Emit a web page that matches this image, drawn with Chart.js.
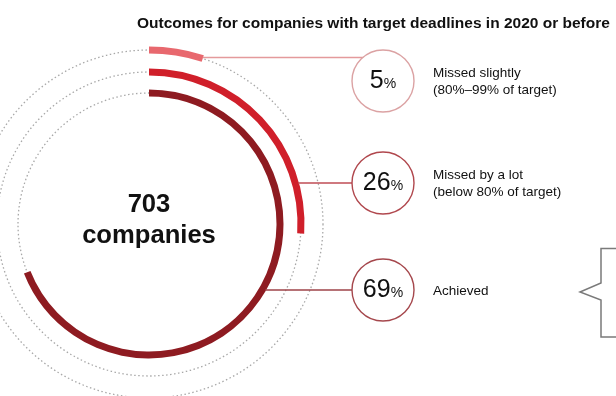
<!DOCTYPE html>
<html>
<head>
<meta charset="utf-8">
<script src="https://cdn.jsdelivr.net/npm/chart.js@4"></script>
<style>
  html, body { margin: 0; padding: 0; background: #fff; }
  body { width: 616px; height: 396px; position: relative; overflow: hidden;
         font-family: "Liberation Sans", Arial, sans-serif; color: #111; }
  canvas { position: absolute; left: 0; top: 0; }
  .title { position: absolute; left: 137px; top: 15px; font-weight: bold; font-size: 15.5px;
           line-height: 15px; white-space: nowrap; }
  .center { position: absolute; left: 49px; width: 200px; top: 188px; text-align: center;
            font-weight: bold; font-size: 25.6px; line-height: 31px; }
  .pct { position: absolute; width: 62px; text-align: center; font-size: 25px; line-height: 25px;
         transform: translateY(-50%); white-space: nowrap; }
  .pct span { font-size: 14px; }
  .lbl { position: absolute; font-size: 13.5px; line-height: 17px; transform: translateY(-50%);
         white-space: nowrap; }
</style>
</head>
<body>
<canvas id="myChart" width="616" height="396"></canvas>
<div id="texts"></div>
<script>
/* ---------- DATA ---------- */
const chartTitle = "Outcomes for companies with target deadlines in 2020 or before";
const totalCompanies = 703;
const categories = ["Missed slightly", "Missed by a lot", "Achieved"];
const subLabels = ["(80%–99% of target)", "(below 80% of target)", ""];
const shares = [5, 26, 69];

/* ---------- STYLE ---------- */
const ringColors = ["#e8686e", "#d01f2a", "#8e1b21"];
const lineColors = ["#e49a9c", "#bf4d54", "#9e4348"];
const circleColors = ["#dba2a3", "#b0474d", "#a5474c"];
const calloutX = 383;
const calloutY = [81, 183, 290];
const calloutR = 31;
const gapWeights = [15, 14];

/* ---------- DATASETS (outer ring first) ---------- */
const datasets = [];
const ringIndex = [];
shares.forEach((v, i) => {
  ringIndex.push(datasets.length);
  datasets.push({
    label: categories[i],
    data: [v, 100 - v],
    backgroundColor: [ringColors[i], "rgba(0,0,0,0)"],
    borderWidth: 0,
    weight: 7,
    clip: false
  });
  if (i < gapWeights.length) {
    datasets.push({ label: "", data: [1], backgroundColor: ["rgba(0,0,0,0)"],
                    borderWidth: 0, weight: gapWeights[i], clip: false });
  }
});

/* ---------- TRACKS, CONNECTORS, CALLOUTS ---------- */
const decorations = {
  id: "decorations",
  beforeDatasetsDraw(chart) {
    const ctx = chart.ctx;
    ctx.save();
    ctx.strokeStyle = "#a8a8a8";
    ctx.lineWidth = 1.3;
    ctx.setLineDash([1.5, 2.5]);
    ringIndex.forEach(di => {
      const a = chart.getDatasetMeta(di).data[0];
      const r = (a.innerRadius + a.outerRadius) / 2;
      ctx.beginPath();
      ctx.arc(a.x, a.y, r, 0, Math.PI * 2);
      ctx.stroke();
    });
    ctx.restore();
  },
  afterDatasetsDraw(chart) {
    const ctx = chart.ctx;
    ctx.save();
    ringIndex.forEach((di, i) => {
      const a = chart.getDatasetMeta(di).data[0];
      let x0, y0;
      if (i === 0) {
        const rm = (a.innerRadius + a.outerRadius) / 2;
        x0 = a.x + rm * Math.cos(a.endAngle);
        y0 = a.y + rm * Math.sin(a.endAngle) - 1;
      } else {
        y0 = calloutY[i];
        x0 = a.x + Math.sqrt(a.outerRadius * a.outerRadius - (y0 - a.y) * (y0 - a.y)) - 1;
      }
      ctx.strokeStyle = lineColors[i];
      ctx.lineWidth = 1.5;
      ctx.beginPath();
      ctx.moveTo(x0, y0);
      ctx.lineTo(calloutX, y0);
      ctx.stroke();

      ctx.beginPath();
      ctx.arc(calloutX, calloutY[i], calloutR, 0, Math.PI * 2);
      ctx.fillStyle = "#fff";
      ctx.fill();
      ctx.strokeStyle = circleColors[i];
      ctx.lineWidth = 1.4;
      ctx.stroke();
    });

    // cut-off brace on the right edge
    ctx.strokeStyle = "#7a7a7a";
    ctx.lineWidth = 1.5;
    ctx.beginPath();
    ctx.moveTo(617, 248.5);
    ctx.lineTo(601, 248.5);
    ctx.lineTo(601, 283);
    ctx.lineTo(580, 292);
    ctx.lineTo(601, 300);
    ctx.lineTo(601, 337);
    ctx.lineTo(617, 337);
    ctx.stroke();
    ctx.restore();
  }
};

new Chart(document.getElementById("myChart"), {
  type: "doughnut",
  data: { labels: ["share", "rest"], datasets: datasets },
  options: {
    responsive: false,
    devicePixelRatio: 1,
    animation: false,
    events: [],
    radius: 177.5,
    cutout: "71.83%",
    layout: { padding: { left: 0, right: 318, top: 52, bottom: 0 } },
    elements: { arc: { offset: 0, hoverOffset: 0, borderWidth: 0 } },
    plugins: { legend: { display: false }, tooltip: { enabled: false } }
  },
  plugins: [decorations]
});

/* ---------- TEXT ---------- */
const texts = document.getElementById("texts");
let html = `<div class="title">${chartTitle}</div>`;
html += `<div class="center">${totalCompanies}<br>companies</div>`;
shares.forEach((v, i) => {
  html += `<div class="pct" style="left:${calloutX - 31}px;top:${calloutY[i]}px">${v}<span>%</span></div>`;
  const sub = subLabels[i] ? `<br>${subLabels[i]}` : "";
  html += `<div class="lbl" style="left:433px;top:${calloutY[i]}px">${categories[i]}${sub}</div>`;
});
texts.innerHTML = html;
</script>
</body>
</html>
